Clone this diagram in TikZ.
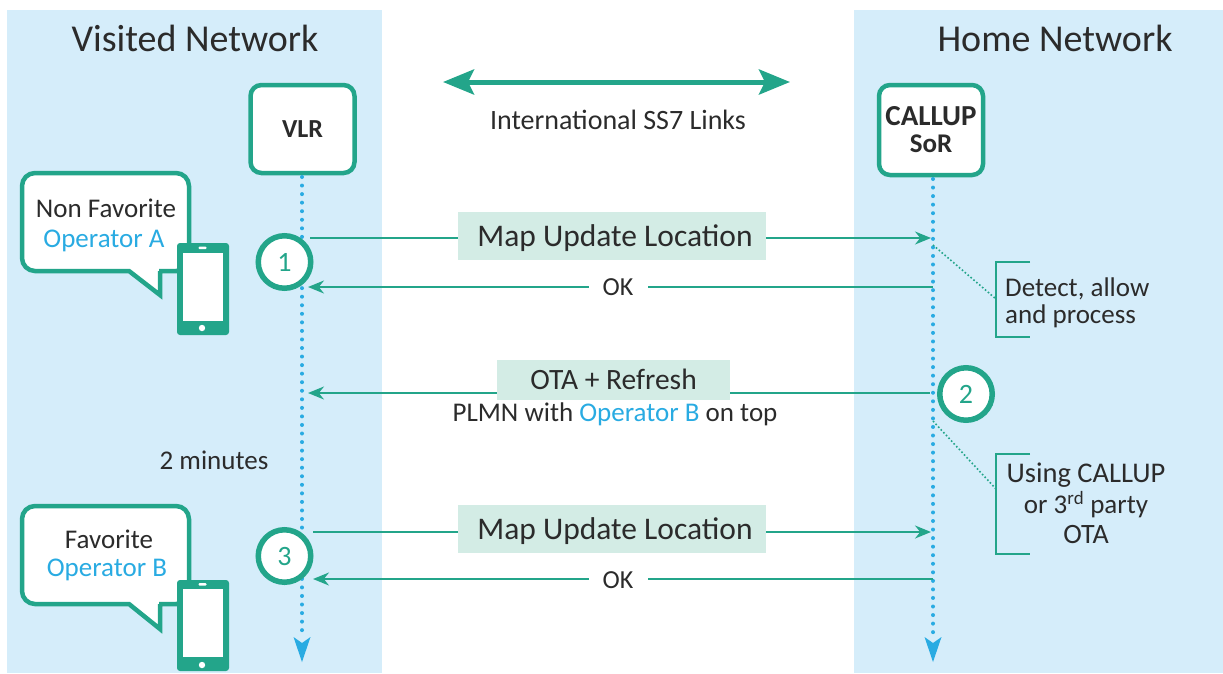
\documentclass[tikz,border=0pt]{standalone}
\usepackage{fontspec}
\setmainfont{Carlito}
\usetikzlibrary{arrows.meta}
\definecolor{grn}{HTML}{23A58A}
\definecolor{blu}{HTML}{29ABE2}
\definecolor{pan}{HTML}{D5EDFA}
\definecolor{lab}{HTML}{D3ECE5}
\definecolor{ink}{HTML}{2B2B2B}
\newcommand{\fs}[1]{\fontsize{#1}{#1}\selectfont}
\tikzset{
 x=1pt,y=-1pt,
 panel/.style={fill=pan,draw=none},
 boxnode/.style={draw=grn,line width=4.5pt,fill=white,rounded corners=11pt,minimum width=104pt,inner sep=0pt,align=center,text=ink,font=\bfseries},
 life/.style={blu,line width=4pt,line cap=round,dash pattern=on 0pt off 8.55pt},
 msg/.style={grn,line width=1.9pt,-{Stealth[length=16pt,width=13pt]}},
 msglabel/.style={fill=lab,inner sep=0pt,text=ink,font=\fs{31.5},minimum width=308pt,minimum height=48pt,text height=24pt,text depth=3pt},
 oklabel/.style={fill=white,inner sep=0pt,text=ink,font=\fs{26},minimum width=59pt,minimum height=18pt},
 stepcircle/.style={circle,draw=grn,line width=5.5pt,fill=white,minimum size=52.5pt,inner sep=0pt,text=grn,font=\fs{28}},
 txt/.style={inner sep=0pt,text=ink,font=\fs{27},align=center},
 head/.style={inner sep=0pt,text=ink,font=\fs{38}},
 leader/.style={grn,line width=1.6pt,dash pattern=on 1.6pt off 2.2pt},
 bracket/.style={grn,line width=2pt},
 bubble/.style={draw=grn,line width=4.5pt,fill=white,line join=miter},
 phonebody/.style={fill=grn,rounded corners=3pt},
}
\begin{document}
\begin{tikzpicture}
\useasboundingbox (0,0) rectangle (1223,673);
\fill[panel] (7,10) rectangle (382,673);
\fill[panel] (854,10) rectangle (1223,673);
\node[head] (visited) at (195,38) {Visited Network};
\node[head] (home) at (1055,38) {Home Network};
% SS7
\coordinate (ssl) at (443,82);
\coordinate (ssr) at (790,82);
\draw[grn,line width=5pt,{Stealth[length=31pt,width=25pt,inset=6pt]}-{Stealth[length=31pt,width=25pt,inset=6pt]}] (ssl) -- (ssr);
\node[txt,font=\fs{28}] (sslabel) at (618,120) {International SS7 Links};
% boxes
\node[boxnode,minimum height=88pt] (vlr) at (302.5,129) {\fs{26}VLR};
\node[boxnode,minimum height=90pt] (sor) at (931,130) {\fs{29}CALLUP\\[8pt]\fs{27}SoR};
% lifelines
\coordinate (vlrend) at (302,662);
\coordinate (sorend) at (933,662);
\draw[life] (302,177) -- (302,636);
\draw[life] (933,179) -- (933,636);
\fill[blu] (293.5,637) -- (302,643) -- (310.5,637) -- (302,662) -- cycle;
\fill[blu] (924.5,637) -- (933,643) -- (941.5,637) -- (933,662) -- cycle;
% anchors
\coordinate (a1) at (310,238); \coordinate (b1) at (931,238);
\coordinate (a2) at (933,287); \coordinate (b2) at (308,287);
\coordinate (a3) at (930,393); \coordinate (b3) at (308,393);
\coordinate (a4) at (313,532); \coordinate (b4) at (931,532);
\coordinate (a5) at (933,579); \coordinate (b5) at (313,579);
\draw[msg] (a1) -- (b1);
\draw[msg] (a2) -- (b2);
\draw[msg] (a3) -- (b3);
\draw[msg] (a4) -- (b4);
\draw[msg] (a5) -- (b5);
\node[msglabel] (m1) at (612,236) {\hspace*{6pt}Map Update Location};
\node[oklabel] (ok1) at (618,287) {OK};
\node[msglabel,minimum width=233pt,minimum height=40pt,font=\fs{29.5},text height=22pt,text depth=4pt] (m2) at (613.5,380) {OTA + Refresh};
\node[txt] (plmn) at (615,414) {PLMN with \textcolor{blu}{Operator B} on top};
\node[msglabel] (m3) at (612,529) {\hspace*{6pt}Map Update Location};
\node[oklabel] (ok2) at (618,580) {OK};
\node[txt] (mins) at (214,460) {2 minutes};
% circles
\node[stepcircle] (c1) at (284.5,262) {1};
\node[stepcircle] (c2) at (966,394) {2};
\node[stepcircle] (c3) at (284.5,556) {3};
% bubbles
\draw[bubble] (129,271) [rounded corners=13pt] -- (22,271) -- (22,173) -- (189,173) -- (189,271) -- (172,271) [sharp corners] -- (160,271) -- (160,295) -- cycle;
\node[txt] (nf) at (106,208) {Non Favorite};
\node[txt,text=blu] (opa) at (104,241) {Operator A};
\fill[phonebody] (177,243) rectangle (229,335);
\fill[white] (183,253) rectangle (223,321);
\fill[white,rounded corners=1pt] (198.5,246.5) rectangle (206.5,249);
\fill[white] (202,328) circle (3.2);
\draw[bubble] (129,604) [rounded corners=13pt] -- (22,604) -- (22,506) -- (189,506) -- (189,604) -- (172,604) [sharp corners] -- (160,604) -- (160,629) -- cycle;
\node[txt] (fav) at (109,539) {Favorite};
\node[txt,text=blu] (opb) at (107,570) {Operator B};
\fill[phonebody] (177,580) rectangle (229,671);
\fill[white] (183,589) rectangle (223,657);
\fill[white,rounded corners=1pt] (198.5,583) rectangle (206.5,585.5);
\fill[white] (202,665) circle (3.2);
% brackets
\draw[bracket] (1030,262) -- (996,262) -- (996,337) -- (1030,337);
\draw[bracket] (1030,454) -- (996,454) -- (996,554) -- (1030,554);
\coordinate (l1a) at (933,245); \coordinate (l1b) at (996,299);
\coordinate (l2a) at (933,421); \coordinate (l2b) at (996,489);
\draw[leader] (l1a) -- (l1b);
\draw[leader] (l2a) -- (l2b);
\node[txt,anchor=west] (d1) at (1005,289) {Detect, allow};
\node[txt,anchor=west] (d2) at (1005,316) {and process};
\node[txt,font=\fs{28.5}] (u1) at (1086,475) {Using CALLUP};
\node[txt,font=\fs{27}] (u2) at (1086,505) {or 3\textsuperscript{rd} party};
\node[txt,font=\fs{28}] (u3) at (1086,534) {OTA};
\end{tikzpicture}
\end{document}
